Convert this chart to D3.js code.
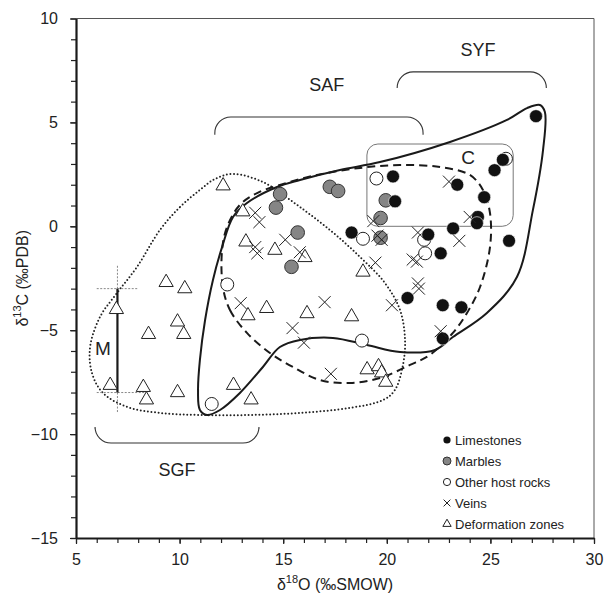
<!DOCTYPE html>
<html>
<head>
<meta charset="utf-8">
<script src="https://cdn.jsdelivr.net/npm/d3@7"></script>
<style>
  body { margin: 0; background: #fff; }
  text { font-family: "Liberation Sans", Arial, sans-serif; }
</style>
</head>
<body>
<svg id="chart" width="608" height="600"></svg>
<script>
// axis ticks
const xTicks = [5, 10, 15, 20, 25, 30];
const yTicks = [-15, -10, -5, 0, 5, 10];
const xMinor = d3.range(5, 31);
const yMinor = d3.range(-15, 11);

// samples [d18O, d13C]
const limestones = [[27.2, 5.3], [25.6, 3.2], [25.2, 2.7], [20.3, 2.4], [23.4, 2.0], [20.4, 1.2],
  [24.7, 1.4], [24.4, 0.45], [24.35, 0.15], [23.2, -0.1], [22.0, -0.4], [25.9, -0.7], [22.6, -1.3],
  [18.3, -0.3], [21.0, -3.45], [22.7, -3.8], [23.6, -3.9], [22.7, -5.4]];
const marbles = [[14.85, 1.55], [14.65, 0.9], [15.7, -0.3], [15.4, -1.95], [17.25, 1.9], [17.65, 1.7],
  [19.95, 1.25], [19.7, 0.4], [19.7, -0.55]];
const otherRocks = [[19.5, 2.3], [18.85, -0.6], [21.85, -1.3], [21.8, -0.65], [25.75, 3.25],
  [18.8, -5.5], [12.3, -2.8], [11.55, -8.55]];
const veins = [[13.65, 0.65], [13.85, 0.2], [13.65, -1.0], [13.75, -1.3], [15.1, -0.65], [15.8, -1.25],
  [12.95, -3.7], [17.0, -3.65], [15.45, -4.9], [16.0, -5.6], [17.3, -7.1], [20.25, -3.8], [19.35, 0.25],
  [19.55, -0.45], [19.75, -0.65], [21.5, -0.3], [23.0, 2.15], [24.0, 0.45], [23.5, -0.7], [19.45, -1.75],
  [21.25, -1.6], [21.45, -1.7], [21.5, -2.75], [21.55, -3.0], [22.6, -5.05]];
const deformation = [[12.1, 1.95], [13.05, 0.7], [13.2, -0.75], [14.6, -1.15], [16.05, -1.5], [10.25, -3.0],
  [9.35, -2.7], [6.95, -4.0], [8.5, -5.2], [9.9, -4.6], [10.2, -5.2], [6.65, -7.65], [8.25, -7.75],
  [8.4, -8.35], [9.9, -8.0], [12.6, -7.65], [13.45, -8.35], [14.2, -3.95], [13.3, -4.3], [16.15, -4.2],
  [18.3, -4.35], [18.85, -2.2], [19.05, -6.9], [19.6, -6.75], [19.75, -7.05], [19.95, -7.5]];

// fields
const solidField = [[11.32, -9.08], [10.98, -8.84], [10.89, -7.88], [10.98, -6.43], [11.23, -4.51],
  [11.61, -2.58], [12.05, -1.0], [12.58, 0.45], [13.25, 1.12], [14.7, 1.89], [15.81, 2.23], [17.74, 2.71],
  [19.67, 3.09], [23.05, 4.06], [25.8, 5.12], [26.77, 5.69], [27.39, 5.84], [27.63, 5.5], [27.54, 3.67],
  [27.05, 0.78], [26.28, -2.44], [24.83, -4.17], [23.19, -5.33], [22.33, -5.95], [20.64, -6.05],
  [19.04, -5.71], [17.4, -5.37], [15.81, -5.47], [14.84, -5.81], [14.02, -6.77], [12.91, -8.02], [11.95, -8.84]];
const dashedField = [[12.09, -2.92], [12.43, -4.03], [13.25, -5.13], [14.36, -6.1], [15.47, -6.77],
  [16.78, -7.4], [18.22, -7.54], [19.67, -7.3], [21.12, -6.67], [22.08, -6.19], [23.19, -5.13],
  [23.87, -4.17], [24.5, -2.92], [24.98, -1.0], [24.98, 0.64], [24.64, 1.75], [24.01, 2.47], [22.57, 2.85],
  [20.64, 2.95], [18.71, 2.81], [16.63, 2.47], [14.84, 1.99], [13.74, 1.6], [12.91, 1.03], [12.29, -0.03],
  [12.05, -1.14]];
const dottedField = [[9.05, -0.18], [10.02, 0.93], [10.98, 1.75], [11.71, 2.28], [12.58, 2.52],
  [14.02, 2.13], [15.33, 1.27], [17.26, -0.18], [18.71, -1.48], [19.91, -2.73], [20.64, -4.03],
  [20.88, -5.47], [20.78, -6.67], [20.39, -7.88], [19.82, -8.36], [18.22, -8.74], [15.81, -8.98],
  [13.4, -9.08], [10.98, -9.08], [9.05, -8.98], [7.46, -8.69], [6.3, -8.02], [5.77, -7.06], [5.68, -5.81],
  [6.16, -4.36], [6.98, -3.21], [7.94, -1.96]];

// group brackets: label, x0, x1, yEdge, yTip, label position
const brackets = [
  {label: "SYF", x0: 20.5, x1: 27.7, yEdge: 7.43, yTip: 6.66, lx: 24.4, ly: 8.48},
  {label: "SAF", x0: 11.7, x1: 21.75, yEdge: 5.26, yTip: 4.4, lx: 17.1, ly: 6.8},
  {label: "SGF", x0: 5.92, x1: 13.83, yEdge: -10.43, yTip: -9.75, lx: 9.87, ly: -11.73}
];
const boxC = {x0: 19.04, x1: 26.1, y0: 0.0, y1: 3.96, lx: 23.92, ly: 3.29};
const rangeM = {x: 7, yTop: -3, yBottom: -8, lx: 6.3, ly: -5.86};

const legendItems = ["Limestones", "Marbles", "Other host rocks", "Veins", "Deformation zones"];

const svg = d3.select("#chart");
const margin = {top: 18.5, right: 14, bottom: 62, left: 76};
const width = 608, height = 600;

const x = d3.scaleLinear().domain([5, 30]).range([margin.left, width - margin.right]);
const y = d3.scaleLinear().domain([-15, 10]).range([height - margin.bottom, margin.top]);

// frame (top and right)
svg.append("path")
    .attr("d", `M${x(5)},${y(10)}H${x(30)}V${y(-15)}`)
    .attr("fill", "none")
    .attr("stroke", "#555")
    .attr("stroke-width", 1);

// minor ticks
svg.append("g")
    .attr("transform", `translate(0,${y(-15)})`)
    .call(d3.axisBottom(x).tickValues(xMinor).tickSize(5).tickFormat(""))
    .call(g => g.select(".domain").remove())
    .call(g => g.selectAll("line").attr("stroke", "#222").attr("stroke-width", 1.2));
svg.append("g")
    .attr("transform", `translate(${x(5)},0)`)
    .call(d3.axisLeft(y).tickValues(yMinor).tickSize(5).tickFormat(""))
    .call(g => g.select(".domain").remove())
    .call(g => g.selectAll("line").attr("stroke", "#222").attr("stroke-width", 1.2));

// main axes
var gX = svg.append("g")
    .attr("transform", `translate(0,${y(-15)})`)
    .call(d3.axisBottom(x).tickValues(xTicks).tickSize(6).tickSizeOuter(0).tickPadding(10));
var gY = svg.append("g")
    .attr("transform", `translate(${x(5)},0)`)
    .call(d3.axisLeft(y).tickValues(yTicks).tickSize(6).tickSizeOuter(0).tickPadding(12));
[gX, gY].forEach(g => {
  g.select(".domain").attr("stroke", "#1a1a1a").attr("stroke-width", 2.2);
  g.selectAll("line").attr("stroke", "#222").attr("stroke-width", 1.2);
  g.selectAll("text").attr("font-size", 16).attr("fill", "#222")
    .attr("font-family", "'Liberation Sans', Arial, sans-serif");
});

// axis titles
var xt = svg.append("text")
    .attr("x", (x(5) + x(30)) / 2)
    .attr("y", 590)
    .attr("text-anchor", "middle")
    .attr("font-size", 16)
    .attr("fill", "#222");
xt.append("tspan").text("δ");
xt.append("tspan").attr("font-size", 11).attr("dy", -7).text("18");
xt.append("tspan").attr("dy", 7).text("O (‰SMOW)");

var yt = svg.append("text")
    .attr("transform", `translate(28,${(y(-15) + y(10)) / 2}) rotate(-90)`)
    .attr("text-anchor", "middle")
    .attr("font-size", 16)
    .attr("fill", "#222");
yt.append("tspan").text("δ");
yt.append("tspan").attr("font-size", 11).attr("dy", -7).text("13");
yt.append("tspan").attr("dy", 7).text("C (‰PDB)");

// brackets
brackets.forEach(b => {
  let X0 = x(b.x0), X1 = x(b.x1), YE = y(b.yEdge), YT = y(b.yTip), r = 16;
  let p = d3.path();
  p.moveTo(X0, YT);
  p.arcTo(X0, YE, X0 + r, YE, r);
  p.arcTo(X1, YE, X1, YT, r);
  p.lineTo(X1, YT);
  svg.append("path").attr("d", p.toString())
      .attr("fill", "none").attr("stroke", "#333").attr("stroke-width", 1.1);
  svg.append("text")
      .attr("x", x(b.lx)).attr("y", y(b.ly))
      .attr("text-anchor", "middle").attr("dominant-baseline", "central")
      .attr("font-size", 18).attr("fill", "#222")
      .text(b.label);
});

// box C
svg.append("rect")
    .attr("x", x(boxC.x0)).attr("y", y(boxC.y1))
    .attr("width", x(boxC.x1) - x(boxC.x0)).attr("height", y(boxC.y0) - y(boxC.y1))
    .attr("rx", 11).attr("ry", 11)
    .attr("fill", "none").attr("stroke", "#777").attr("stroke-width", 1);
svg.append("text")
    .attr("x", x(boxC.lx)).attr("y", y(boxC.ly))
    .attr("text-anchor", "middle").attr("dominant-baseline", "central")
    .attr("font-size", 19).attr("fill", "#222")
    .text("C");

// fields
const field = d3.line().x(d => x(d[0])).y(d => y(d[1])).curve(d3.curveCatmullRomClosed.alpha(0.5));
svg.append("path").attr("d", field(dottedField))
    .attr("fill", "none").attr("stroke", "#222").attr("stroke-width", 2)
    .attr("stroke-dasharray", "0,3.6").attr("stroke-linecap", "round");
svg.append("path").attr("d", field(dashedField))
    .attr("fill", "none").attr("stroke", "#1a1a1a").attr("stroke-width", 2)
    .attr("stroke-dasharray", "8,5");
svg.append("path").attr("d", field(solidField))
    .attr("fill", "none").attr("stroke", "#1a1a1a").attr("stroke-width", 2);

// M range
svg.append("path")
    .attr("d", `M${x(6)},${y(rangeM.yTop)}H${x(8)}M${x(6)},${y(rangeM.yBottom)}H${x(8.4)}` +
      `M${x(rangeM.x)},${y(-1.9)}V${y(rangeM.yTop)}M${x(rangeM.x)},${y(rangeM.yBottom)}V${y(-9)}`)
    .attr("fill", "none").attr("stroke", "#888").attr("stroke-width", 1).attr("stroke-dasharray", "2,1.5");
svg.append("line")
    .attr("x1", x(rangeM.x)).attr("x2", x(rangeM.x))
    .attr("y1", y(rangeM.yTop)).attr("y2", y(rangeM.yBottom))
    .attr("stroke", "#1a1a1a").attr("stroke-width", 2.2);
svg.append("text")
    .attr("x", x(rangeM.lx)).attr("y", y(rangeM.ly))
    .attr("text-anchor", "middle").attr("dominant-baseline", "central")
    .attr("font-size", 19).attr("fill", "#222")
    .text("M");

// markers
const tri = d3.symbol(d3.symbolTriangle, 88);
const cross = s => `M${-s},${-s}L${s},${s}M${-s},${s}L${s},${-s}`;

svg.append("g").selectAll("path")
    .data(deformation).enter().append("path")
    .attr("d", tri)
    .attr("transform", d => `translate(${x(d[0])},${y(d[1])})`)
    .attr("fill", "#fff").attr("stroke", "#222").attr("stroke-width", 1);

svg.append("g").selectAll("circle")
    .data(otherRocks).enter().append("circle")
    .attr("cx", d => x(d[0])).attr("cy", d => y(d[1])).attr("r", 6.5)
    .attr("fill", "#fff").attr("stroke", "#222").attr("stroke-width", 1);

svg.append("g").selectAll("circle")
    .data(marbles).enter().append("circle")
    .attr("cx", d => x(d[0])).attr("cy", d => y(d[1])).attr("r", 6.8)
    .attr("fill", "#858585").attr("stroke", "#333").attr("stroke-width", 1);

svg.append("g").selectAll("circle")
    .data(limestones).enter().append("circle")
    .attr("cx", d => x(d[0])).attr("cy", d => y(d[1])).attr("r", 6.5)
    .attr("fill", "#111").attr("stroke", "#fff").attr("stroke-width", 0.6);

svg.append("g").selectAll("path")
    .data(veins).enter().append("path")
    .attr("d", cross(6))
    .attr("transform", d => `translate(${x(d[0])},${y(d[1])})`)
    .attr("fill", "none").attr("stroke", "#222").attr("stroke-width", 1);

// legend
var legend = svg.append("g").attr("transform", "translate(447,440)");
legendItems.forEach((name, i) => {
  let g = legend.append("g").attr("transform", `translate(0,${i * 21})`);
  if (i == 0) g.append("circle").attr("r", 3.6).attr("fill", "#111");
  if (i == 1) g.append("circle").attr("r", 4).attr("fill", "#858585").attr("stroke", "#333");
  if (i == 2) g.append("circle").attr("r", 3.6).attr("fill", "#fff").attr("stroke", "#222");
  if (i == 3) g.append("path").attr("d", cross(3.4)).attr("stroke", "#222").attr("fill", "none");
  if (i == 4) g.append("path").attr("d", d3.symbol(d3.symbolTriangle, 30)).attr("fill", "#fff").attr("stroke", "#222");
  g.append("text").attr("x", 8).attr("dominant-baseline", "central")
      .attr("font-size", 13).attr("fill", "#222").text(name);
});
</script>
</body>
</html>
